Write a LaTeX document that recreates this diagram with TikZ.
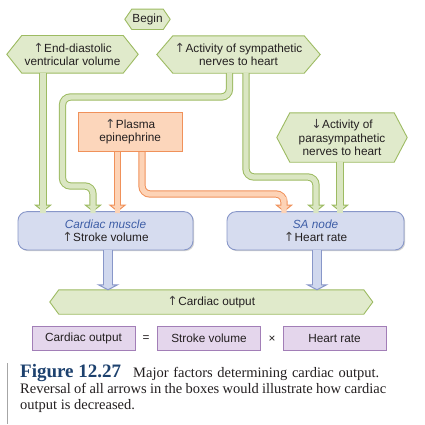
\documentclass[tikz,border=0pt]{standalone}
\usepackage{fontspec}
\setmainfont{Liberation Sans}
\newfontfamily\capfont{Liberation Serif}
\newfontfamily\arrfont{DejaVu Sans}
\newcommand\upar{{\arrfont\fontsize{12.5}{11}\selectfont\color{textc!85}↑}\kern0.4pt}
\newcommand\downar{{\arrfont\fontsize{12.5}{11}\selectfont\color{textc!85}↓}\kern0.4pt}
\usetikzlibrary{calc,backgrounds,shadows}
\definecolor{textc}{HTML}{231F20}
\definecolor{gline}{HTML}{9DBB62}
\definecolor{gfill}{HTML}{E0EACB}
\definecolor{gin}{HTML}{DAE6C2}
\definecolor{oline}{HTML}{F0915A}
\definecolor{ofill}{HTML}{FCD6BB}
\definecolor{oin}{HTML}{FDD3B6}
\definecolor{bline}{HTML}{8897C9}
\definecolor{bfill}{HTML}{D6DCEF}
\definecolor{bin}{HTML}{D0D8EE}
\definecolor{btext}{HTML}{3D5DA6}
\definecolor{pline}{HTML}{A27EB7}
\definecolor{pfill}{HTML}{E4D6EC}
\definecolor{figblue}{HTML}{1D416E}
\tikzset{
  txt/.style={font=\fontsize{11.8}{13.4}\selectfont, text=textc, align=center, inner sep=0pt},
  hexshape/.style={fill=gfill, draw=gline, line width=0.9pt, line join=miter},
  orect/.style={txt, draw=oline, fill=ofill, line width=0.9pt, minimum width=104.5pt, minimum height=39.7pt},
  bbox/.style={txt, draw=bline, fill=bfill, line width=0.9pt, rounded corners=9pt, minimum height=38.3pt,
    drop shadow={shadow xshift=1.2pt, shadow yshift=-1.2pt, opacity=0.35, fill=gray}},
  pbox/.style={txt, draw=pline, fill=pfill, line width=0.9pt, minimum width=103pt, minimum height=23.3pt},
  gout/.style={draw=gline, line width=7.3pt, rounded corners=8pt},
  gin/.style={draw=gin, line width=5.3pt, rounded corners=8pt},
  ghead/.style={fill=gin, draw=gline, line width=1pt, line join=miter},
  oout/.style={draw=oline, line width=7.3pt, rounded corners=8pt},
  oin/.style={draw=oin, line width=5.3pt, rounded corners=8pt},
  ohead/.style={fill=oin, draw=oline, line width=1pt, line join=miter},
  bout/.style={draw=bline, line width=10pt},
  bin/.style={draw=bin, line width=8pt},
  bhead/.style={fill=bin, draw=bline, line width=1pt, line join=miter},
  capstyle/.style={anchor=base west, inner sep=0pt, text=textc, font=\capfont\fontsize{14.5}{16}\selectfont},
}
\newcommand\hexnode[6]{%
  \node[txt, minimum width=#3pt, minimum height=#4pt] (#1) at (#2) {#6};
  \begin{pgfonlayer}{background}
    \filldraw[hexshape] (#1.west) -- ([xshift=#5pt]#1.north west) -- ([xshift=-#5pt]#1.north east)
      -- (#1.east) -- ([xshift=-#5pt]#1.south east) -- ([xshift=#5pt]#1.south west) -- cycle;
  \end{pgfonlayer}}
\newcommand\fatarrow[5]{%
  \draw[#1out] #2;
  \filldraw[#1head] (#3) -- ++(-#4,-#5) -- ++(2*#4,0) -- cycle;
  \draw[#1in] #2 -- ++(0,1.3);}
\begin{document}
\begin{tikzpicture}[x=1pt,y=-1pt]
\begin{pgfonlayer}{background}
\fill[white] (0,0) rectangle (425,424);
\end{pgfonlayer}
\useasboundingbox (0,0) rectangle (425,424);
% green hexagons
\hexnode{begin}{147.5,19.3}{45}{20}{7}{Begin}
\hexnode{ed}{72.5,54.3}{131}{37.3}{15}{\upar End-diastolic\\ventricular volume}
\hexnode{sym}{238.5,54.5}{163}{37}{16}{\upar Activity of sympathetic\\nerves to heart}
\hexnode{para}{342,137.5}{130}{49}{13}{\downar Activity of\\parasympathetic\\nerves to heart}
\hexnode{co}{211.3,302}{322.6}{24}{9}{\upar Cardiac output}
% other boxes
\node[orect] (pe) at (130.2,131.8) {\upar Plasma\\epinephrine};
\node[bbox, minimum width=175pt] (cm) at (105.5,230.8) {{\color{btext}\itshape Cardiac muscle}\\\upar Stroke volume};
\node[bbox, minimum width=177pt] (sa) at (315.5,230.8) {{\color{btext}\itshape SA node}\\\upar Heart rate};
% arrows
\fatarrow{g}{(ed.south -| 43,0) -- ($(cm.north -| 43,0)+(0,-6)$)}{cm.north -| 43,0}{7.5}{6}
\fatarrow{g}{(sym.south -| 229.5,0) -- (229.5,97) -- (62.5,97) -- (62.5,186) -- (93,186) -- ($(cm.north -| 93,0)+(0,-6)$)}{cm.north -| 93,0}{7.5}{6}
\fatarrow{g}{(sym.south -| 246,0) -- (246,177) -- (316,177) -- ($(sa.north -| 316,0)+(0,-6)$)}{sa.north -| 316,0}{7.5}{6}
\fatarrow{g}{(para.south -| 340,0) -- ($(sa.north -| 340,0)+(0,-6)$)}{sa.north -| 340,0}{7.5}{6}
\fatarrow{o}{(pe.south -| 117.5,0) -- ($(cm.north -| 117.5,0)+(0,-6)$)}{cm.north -| 117.5,0}{7.5}{6}
\fatarrow{o}{(pe.south -| 142,0) -- (142,194) -- (284,194) -- ($(sa.north -| 284,0)+(0,-6)$)}{sa.north -| 284,0}{7.5}{6}
\fatarrow{b}{(cm.south -| 108,0) -- ($(co.north -| 108,0)+(0,-5)$)}{co.north -| 108,0}{9.5}{5}
\fatarrow{b}{(sa.south -| 317,0) -- ($(co.north -| 317,0)+(0,-5)$)}{co.north -| 317,0}{9.5}{5}
% equation
\node[pbox] (co2) at (83.5,338.3) {Cardiac output};
\node[txt] (eq) at (146,338.8) {=};
\node[pbox] (sv) at (209,338.3) {Stroke volume};
\node[txt] (times) at (272,338.8) {×};
\node[pbox] (hr) at (334.5,338.3) {Heart rate};
% caption
\draw[gray!70, line width=0.8pt] (7,363) -- (7,424);
\node[anchor=base west, inner sep=0pt, text=figblue, font=\capfont\bfseries\fontsize{19}{20}\selectfont] (fig) at (20,377) {Figure 12.27};
\node[capstyle] (c1) at (133,377) {\makebox[246pt][s]{Major factors determining cardiac output.}};
\node[capstyle] (c2) at (20,393) {\makebox[366pt][s]{Reversal of all arrows in the boxes would illustrate how cardiac}};
\node[capstyle] (c3) at (20,409) {output is decreased.};
\end{tikzpicture}
\end{document}
